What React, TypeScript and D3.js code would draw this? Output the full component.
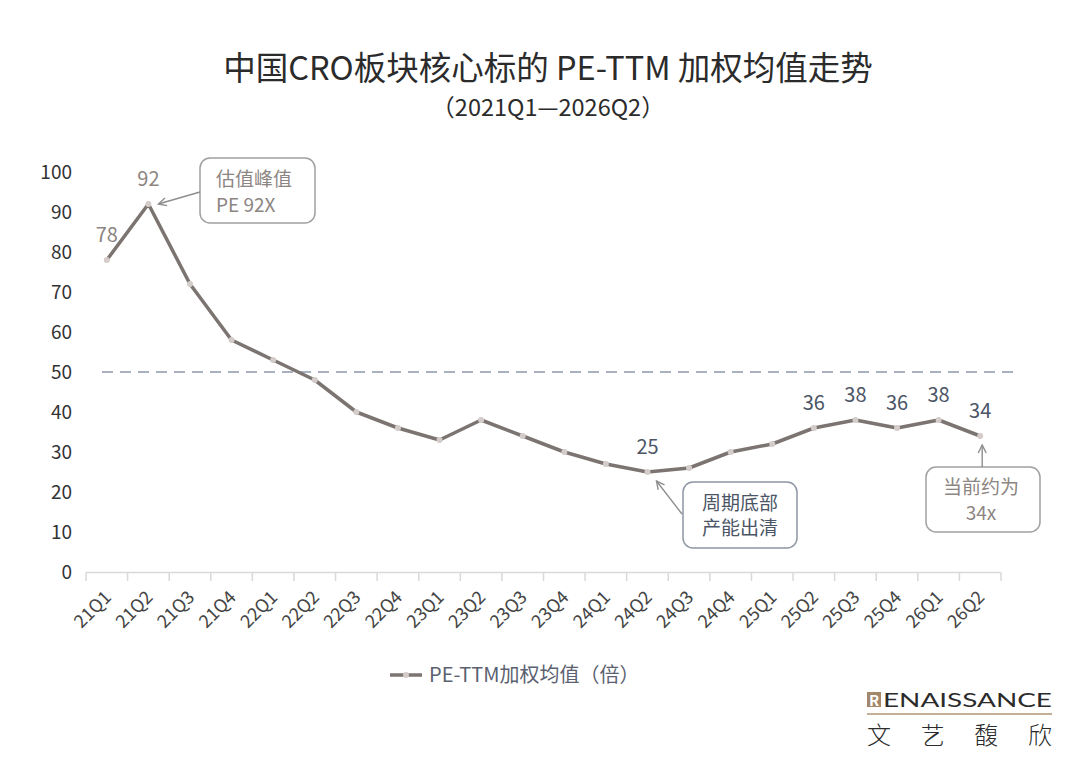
import * as d3 from 'd3';

// quarterly PE-TTM weighted mean
const quarters = [
  '21Q1', '21Q2', '21Q3', '21Q4', '22Q1', '22Q2', '22Q3', '22Q4',
  '23Q1', '23Q2', '23Q3', '23Q4', '24Q1', '24Q2', '24Q3', '24Q4',
  '25Q1', '25Q2', '25Q3', '25Q4', '26Q1', '26Q2',
];
const peValues = [78, 92, 72, 58, 53, 48, 40, 36, 33, 38, 34, 30, 27, 25, 26, 30, 32, 36, 38, 36, 38, 34];
const yTicks = [0, 10, 20, 30, 40, 50, 60, 70, 80, 90, 100];
const labelledEarly = ['21Q1', '21Q2'];
const labelledLate = ['24Q2', '25Q2', '25Q3', '25Q4', '26Q1', '26Q2'];
const refLevel = 50;

const title = '中国CRO板块核心标的 PE-TTM 加权均值走势';
const subtitle = '（2021Q1—2026Q2）';
const legendLabel = 'PE-TTM加权均值（倍）';
const peakNote = ['估值峰值', 'PE 92X'];
const troughNote = ['周期底部', '产能出清'];
const currentNote = ['当前约为', '34x'];

const FONT = '"Noto Sans CJK SC", "Noto Sans", sans-serif';
const LINE = '#7b7471';
const DOT = '#d3ccc8';
const GREY_TXT = '#8c8582';
const BLUE_TXT = '#4b5566';

export default function App() {
  const x = d3.scaleBand<string>().domain(quarters).range([86, 1001]).paddingInner(0).paddingOuter(0);
  const y = d3.scaleLinear().domain([0, 100]).range([572, 172]);
  const cx = (q: string) => (x(q) ?? 0) + x.bandwidth() / 2;
  const pts = quarters.map((q, i) => ({ q, v: peValues[i] }));
  const line = d3.line<{ q: string; v: number }>().x(d => cx(d.q)).y(d => y(d.v));
  const valOf = (q: string) => peValues[quarters.indexOf(q)];
  const boundaries = [...quarters.map(q => x(q) ?? 0), 1001];

  const peak = { x: cx('21Q2'), y: y(valOf('21Q2')) };
  const trough = { x: cx('24Q2'), y: y(valOf('24Q2')) };
  const current = { x: cx('26Q2'), y: y(valOf('26Q2')) };

  return (
    <div style={{ position: 'fixed', left: 0, top: 0 }}>
      <svg width={1080} height={761} style={{ display: 'block', background: '#fff' }} fontFamily={FONT}>
        <defs>
          <marker id="arr" viewBox="0 0 10 10" refX="9" refY="5" markerWidth="10" markerHeight="10"
            markerUnits="userSpaceOnUse" orient="auto">
            <path d="M1,1 L9,5 L1,9" fill="none" stroke="#8e8e8e" strokeWidth={1.4} />
          </marker>
        </defs>

        <text x={548} y={69} dy="0.35em" textAnchor="middle" fontSize={32.5} fill="#2b2b2b">{title}</text>
        <text x={548} y={108} dy="0.35em" textAnchor="middle" fontSize={23.5} fill="#2b2b2b">{subtitle}</text>

        {yTicks.map(t => (
          <text key={t} x={72} y={y(t)} dy="0.35em" textAnchor="end" fontSize={19} fill="#333">{t}</text>
        ))}

        <line x1={86} x2={1001} y1={572.5} y2={572.5} stroke="#d9d9d9" strokeWidth={1.5} />
        {boundaries.map((b, i) => (
          <line key={i} x1={b} x2={b} y1={572.5} y2={581} stroke="#d9d9d9" strokeWidth={1.5} />
        ))}
        {quarters.map(q => (
          <text key={q} transform={`translate(${cx(q) + 1},${594}) rotate(-45)`} textAnchor="end"
            dy="0.35em" fontSize={18} fill="#444">{q}</text>
        ))}

        <line x1={102} x2={1017} y1={y(refLevel)} y2={y(refLevel)} stroke="#a9b1c1" strokeWidth={2}
          strokeDasharray="11 7" />

        <path d={line(pts) ?? ''} fill="none" stroke={LINE} strokeWidth={3.5} strokeLinejoin="round" />
        {pts.map(d => (
          <circle key={d.q} cx={cx(d.q)} cy={y(d.v)} r={3} fill={DOT} />
        ))}

        {labelledEarly.map(q => (
          <text key={q} x={cx(q)} y={y(valOf(q)) - 25} dy="0.35em" textAnchor="middle" fontSize={20}
            fill={GREY_TXT}>{valOf(q)}</text>
        ))}
        {labelledLate.map(q => (
          <text key={q} x={cx(q)} y={y(valOf(q)) - 25} dy="0.35em" textAnchor="middle" fontSize={20}
            fill={BLUE_TXT}>{valOf(q)}</text>
        ))}

        {/* peak note */}
        <rect x={200} y={158} width={115} height={65} rx={10} fill="#fff" stroke="#a0a0a0" strokeWidth={1.5} />
        {peakNote.map((s, i) => (
          <text key={s} x={216} y={179 + i * 26} dy="0.35em" fontSize={19} fill={GREY_TXT}>{s}</text>
        ))}
        <line x1={200} y1={192} x2={peak.x + 10} y2={peak.y} stroke="#8e8e8e" strokeWidth={1.4}
          markerEnd="url(#arr)" />

        {/* trough note */}
        <rect x={683} y={482} width={114} height={66} rx={10} fill="#fff" stroke="#8f96a3" strokeWidth={1.5} />
        {troughNote.map((s, i) => (
          <text key={s} x={740} y={503 + i * 25} dy="0.35em" textAnchor="middle" fontSize={19}
            fill={BLUE_TXT}>{s}</text>
        ))}
        <line x1={682} y1={514} x2={trough.x + 9} y2={trough.y + 9} stroke="#8e8e8e" strokeWidth={1.4}
          markerEnd="url(#arr)" />

        {/* current note */}
        <rect x={926} y={467} width={114} height={65} rx={10} fill="#fff" stroke="#a0a0a0" strokeWidth={1.5} />
        {currentNote.map((s, i) => (
          <text key={s} x={981} y={487 + i * 26} dy="0.35em" textAnchor="middle" fontSize={19}
            fill={GREY_TXT}>{s}</text>
        ))}
        <line x1={current.x + 2} y1={467} x2={current.x + 2} y2={current.y + 9} stroke="#8e8e8e"
          strokeWidth={1.4} markerEnd="url(#arr)" />

        {/* legend */}
        <line x1={390} x2={422} y1={675} y2={675} stroke={LINE} strokeWidth={3.5} />
        <circle cx={406} cy={675} r={3} fill={DOT} />
        <text x={429} y={675} dy="0.35em" fontSize={20} fill="#5b6170">{legendLabel}</text>

        {/* brand mark */}
        <rect x={867} y={692} width={14} height={15} fill="#a3876a" />
        <text x={874} y={706} textAnchor="middle" fontSize={15} fontWeight="bold" fill="#fff">R</text>
        <text x={883} y={707} fontSize={19} fill="#2b2b2b" textLength={169} lengthAdjust="spacingAndGlyphs"
          fontFamily="Lato, sans-serif">ENAISSANCE</text>
        <line x1={867} x2={1052} y1={714} y2={714} stroke="#c4b097" strokeWidth={2} />
        <text x={867} y={744} fontSize={24} fill="#2b2b2b" textLength={185} lengthAdjust="spacing"
          fontWeight={300}>文艺馥欣</text>
      </svg>
    </div>
  );
}
